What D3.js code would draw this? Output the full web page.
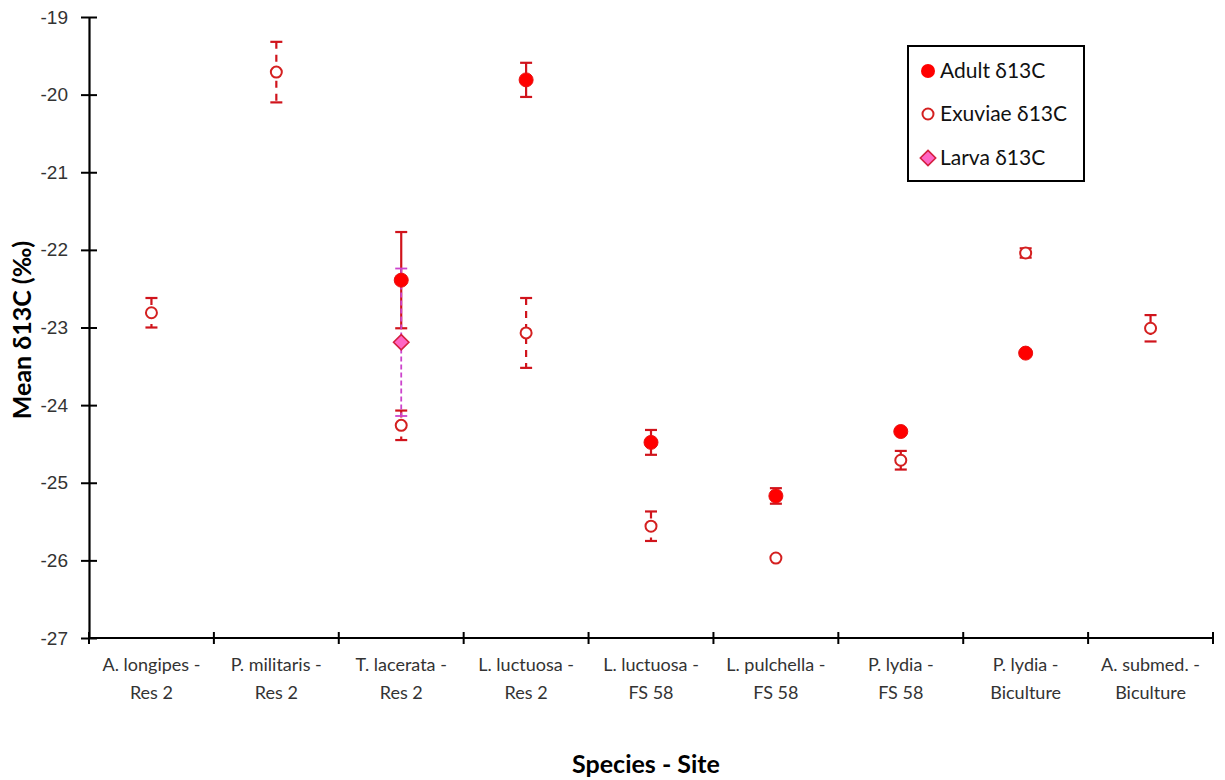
<!DOCTYPE html>
<html>
<head>
<meta charset="utf-8">
<script src="https://cdn.jsdelivr.net/npm/d3@7"></script>
<style>
  body { margin: 0; background: #fff; }
  svg { display: block; font-family: Lato, "Open Sans", sans-serif; }
</style>
</head>
<body>
<svg id="chart" width="1225" height="780"></svg>
<script>
// Species–site groups along the x axis (two-line labels)
const categories = [
  ["A. longipes -", "Res 2"],
  ["P. militaris -", "Res 2"],
  ["T. lacerata -", "Res 2"],
  ["L. luctuosa -", "Res 2"],
  ["L. luctuosa -", "FS 58"],
  ["L. pulchella -", "FS 58"],
  ["P. lydia -", "FS 58"],
  ["P. lydia -", "Biculture"],
  ["A. submed. -", "Biculture"]
];
const yTicks = [-19, -20, -21, -22, -23, -24, -25, -26, -27];

// Mean δ13C and error (null = no sample)
const adultMean = [null, null, -22.39, -19.81, -24.48, -25.17, -24.34, -23.33, null];
const adultErr  = [null, null, 0.62, 0.22, 0.16, 0.10, 0, 0, null];
const exuviaeMean = [-22.81, -19.71, -24.26, -23.07, -25.56, -25.97, -24.71, -22.04, -23.01];
const exuviaeErr  = [0.19, 0.39, 0.19, 0.45, 0.19, 0, 0.12, 0.06, 0.17];
const larvaMean = [null, null, -23.19, null, null, null, null, null, null];
const larvaErr  = [null, null, 0.95, null, null, null, null, null, null];

const svg = d3.select("#chart");
const plotLeft = 89, plotRight = 1213, plotTop = 17, plotBottom = 638;

const x = d3.scaleBand().domain(d3.range(categories.length)).range([plotLeft, plotRight]).padding(0);
const y = d3.scaleLinear().domain([-27, -19]).range([plotBottom, plotTop]);

// Y axis
const yAxis = d3.axisLeft(y).tickValues(yTicks).tickSizeInner(8).tickSizeOuter(0).tickPadding(10)
  .tickFormat(d => d3.format("d")(d).replace("−", "-"));
const gy = svg.append("g").attr("transform", `translate(${plotLeft},0)`).call(yAxis);
gy.select(".domain").attr("stroke", "#000").attr("stroke-width", 2.2);
gy.selectAll(".tick line").attr("stroke", "#000").attr("stroke-width", 2).attr("x2", 8).attr("x1", -8);
gy.selectAll(".tick text").attr("font-size", 19).attr("fill", "#333").attr("x", -21);

// X axis with ticks at category boundaries
const boundaries = d3.range(categories.length + 1).map(i => plotLeft + i * x.step());
svg.append("line").attr("x1", plotLeft).attr("x2", plotRight).attr("y1", plotBottom).attr("y2", plotBottom)
  .attr("stroke", "#000").attr("stroke-width", 2.2);
svg.append("g").selectAll("line").data(boundaries).join("line")
  .attr("x1", d => d).attr("x2", d => d).attr("y1", plotBottom - 6).attr("y2", plotBottom + 6)
  .attr("stroke", "#000").attr("stroke-width", 2);
const xl = svg.append("g").selectAll("text").data(categories).join("text")
  .attr("x", (d, i) => x(i) + x.bandwidth() / 2)
  .attr("y", 671).attr("text-anchor", "middle").attr("font-size", 18).attr("fill", "#333");
xl.append("tspan").attr("x", (d, i) => x(i) + x.bandwidth() / 2).text(d => d[0]);
xl.append("tspan").attr("x", (d, i) => x(i) + x.bandwidth() / 2).attr("dy", 28).text(d => d[1]);

// Axis titles
svg.append("text").attr("x", 646).attr("y", 773).attr("text-anchor", "middle")
  .attr("font-size", 25).attr("font-weight", "bold").attr("fill", "#000").text("Species - Site");
svg.append("text").attr("transform", "translate(31,330) rotate(-90)").attr("text-anchor", "middle")
  .attr("font-size", 25).attr("font-weight", "bold").attr("fill", "#000").text("Mean δ13C (‰)");

const cx = i => x(i) + x.bandwidth() / 2;

function errorBars(means, errs, color, dash, width) {
  const g = svg.append("g");
  const idx = d3.range(means.length).filter(i => means[i] != null && errs[i] > 0);
  g.selectAll("line.v").data(idx).join("line").attr("class", "v")
    .attr("x1", cx).attr("x2", cx)
    .attr("y1", i => y(means[i] + errs[i])).attr("y2", i => y(means[i] - errs[i]))
    .attr("stroke", color).attr("stroke-width", width).attr("stroke-dasharray", dash);
  [1, -1].forEach(s => {
    g.selectAll("line.c" + (s > 0 ? "t" : "b")).data(idx).join("line").attr("class", "c" + (s > 0 ? "t" : "b"))
      .attr("x1", i => cx(i) - 6).attr("x2", i => cx(i) + 6)
      .attr("y1", i => y(means[i] + s * errs[i]))
      .attr("y2", i => y(means[i] + s * errs[i]))
      .attr("stroke", color).attr("stroke-width", width);
  });
}

// Error bars
errorBars(adultMean, adultErr, "#d0141c", null, 2.2);
errorBars(exuviaeMean, exuviaeErr, "#d0141c", "7,6", 2.2);
errorBars(larvaMean, larvaErr, "#cc44cc", "5,3", 1.8);

// Markers
const adultIdx = d3.range(adultMean.length).filter(i => adultMean[i] != null);
svg.append("g").selectAll("circle").data(adultIdx).join("circle")
  .attr("cx", cx).attr("cy", i => y(adultMean[i])).attr("r", 7)
  .attr("fill", "#ff0000").attr("stroke", "#e81010").attr("stroke-width", 1);

const exIdx = d3.range(exuviaeMean.length).filter(i => exuviaeMean[i] != null);
svg.append("g").selectAll("circle").data(exIdx).join("circle")
  .attr("cx", cx).attr("cy", i => y(exuviaeMean[i])).attr("r", 5.5)
  .attr("fill", "#fff").attr("stroke", "#d42020").attr("stroke-width", 2);

const diamond = d3.symbol().type(d3.symbolDiamond2).size(150);
const lvIdx = d3.range(larvaMean.length).filter(i => larvaMean[i] != null);
svg.append("g").selectAll("path").data(lvIdx).join("path")
  .attr("transform", i => `translate(${cx(i)},${y(larvaMean[i])})`)
  .attr("d", diamond).attr("fill", "#ff66c4").attr("stroke", "#d42040").attr("stroke-width", 1.6);

// Legend
const lg = svg.append("g").attr("transform", "translate(908,46)");
lg.append("rect").attr("width", 176).attr("height", 135).attr("fill", "#fff")
  .attr("stroke", "#000").attr("stroke-width", 2);
const legendItems = ["Adult δ13C", "Exuviae δ13C", "Larva δ13C"];
const rowY = [25, 68, 112];
lg.append("circle").attr("cx", 20).attr("cy", rowY[0]).attr("r", 7).attr("fill", "#ff0000");
lg.append("circle").attr("cx", 20).attr("cy", rowY[1]).attr("r", 5.5).attr("fill", "#fff")
  .attr("stroke", "#d42020").attr("stroke-width", 2);
lg.append("path").attr("transform", `translate(20,${rowY[2]})`).attr("d", diamond)
  .attr("fill", "#ff66c4").attr("stroke", "#d42040").attr("stroke-width", 1.6);
lg.selectAll("text").data(legendItems).join("text")
  .attr("x", 32).attr("y", (d, i) => rowY[i] + 7).attr("font-size", 21).attr("fill", "#111")
  .text(d => d);
</script>
</body>
</html>
